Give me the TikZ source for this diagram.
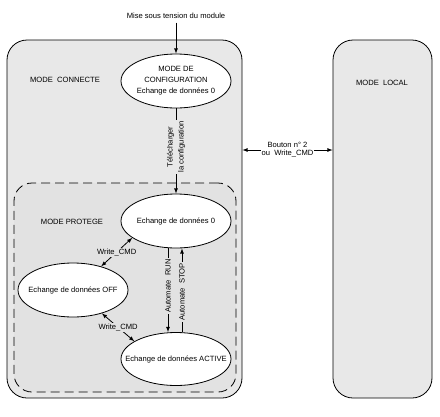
\documentclass[tikz,border=0pt]{standalone}
\usepackage{fontspec}
\setmainfont{Liberation Sans}
\usetikzlibrary{shapes.geometric}

\begin{document}
\begin{tikzpicture}[x=1pt,y=-1pt,>=latex,line width=0.8pt,
    every node/.style={font=\fontsize{7.6}{11}\selectfont},
    etat/.style={ellipse,draw,fill=white,minimum width=110pt,minimum height=54pt,inner xsep=-20pt,inner ysep=0pt,align=center},
    mode/.style={draw,rounded corners=20pt,fill=gray!18},
    lbl/.style={fill=#1,inner sep=1pt,align=center}]

    \useasboundingbox (0,0) rectangle (440,416);

    % les trois modes
    \node[mode,minimum width=235pt,minimum height=358pt] (connecte) at (124.5,219) {};
    \node[mode,minimum width=99pt,minimum height=358pt] (local) at (382.5,219) {};
    \node[mode,dash pattern=on 9pt off 5pt,fill=gray!23,rounded corners=18pt,minimum width=222pt,minimum height=209pt] (protege) at (125,287.5) {};

    \node (tconnecte) at (65,80) {MODE\ \ CONNECTE};
    \node (tlocal) at (382,83) {MODE\ \ LOCAL};
    \node (tprotege) at (72,222) {MODE PROTEGE};

    % les etats
    \node[etat] (conf) at (176,81) {MODE DE\\CONFIGURATION\\Echange de données 0};
    \node[etat] (ech0) at (176,221) {Echange de données 0};
    \node[etat] (off) at (73,290) {Echange de données OFF};
    \node[etat,minimum height=53pt] (active) at (176,359) {Echange de données ACTIVE};

    \node (mise) at (176,16) {Mise sous tension du module};
    \draw[->] (mise) -- (conf);
    \draw[->] (conf) -- (ech0) node[pos=0.45,lbl=gray!18,rotate=90] {Télécharger\\la configuration};

    \draw[<->] (ech0.201) -- (off.40) node[midway,lbl=gray!23] {Write\_CMD};
    \draw[<->] (off.-39) -- (active.157) node[midway,lbl=gray!23] {Write\_CMD};

    \draw[->] ([xshift=-8pt]ech0.south) -- ([xshift=-8pt]active.north) node[pos=0.45,lbl=gray!23,rotate=90] {Automate\ \ RUN};
    \draw[<-] ([xshift=6pt]ech0.south) -- ([xshift=6pt]active.north) node[pos=0.52,lbl=gray!23,rotate=90] {Automate\ \ STOP};

    \draw[<->] ([yshift=69pt]connecte.east) -- ([yshift=69pt]local.west) node[midway,lbl=white,font=\fontsize{7.6}{8}\selectfont] {Bouton n° 2\\ou\ \ Write\_CMD};

\end{tikzpicture}
\end{document}
